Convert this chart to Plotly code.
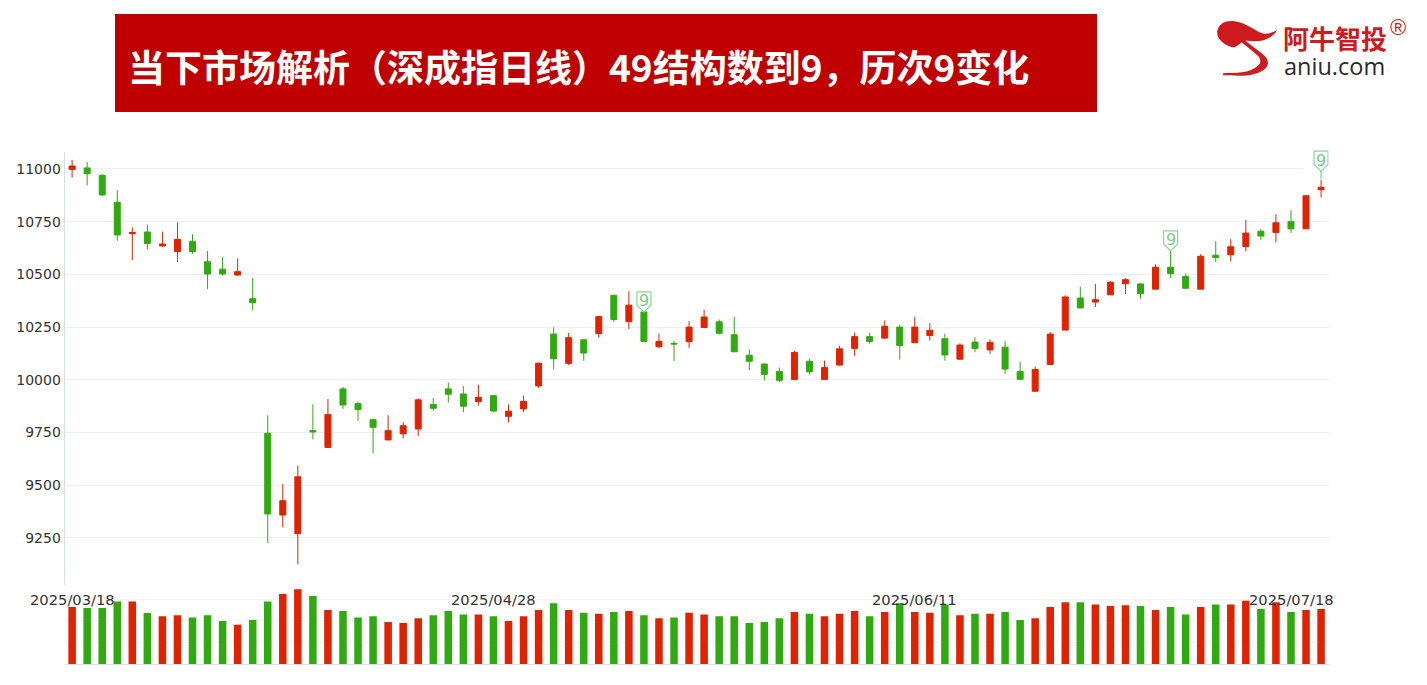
import plotly.graph_objects as go

W, H = 1427, 685

opens = [10998,11005,10970,10842,10693,10701,10635,10608,10657,10560,10525,10497,10385,9747,9359,9271,9759,9679,9957,9887,
         9811,9715,9744,9767,9883,9957,9933,9897,9925,9827,9862,9971,10217,10078,10190,10219,10401,10276,10322,10157,
         10173,10181,10248,10275,10214,10117,10075,10040,10002,10088,10002,10070,10149,10205,10198,10250,10176,10210,10195,10098,
         10179,10142,10155,10040,9946,10073,10236,10388,10369,10403,10456,10455,10430,10534,10490,10430,10591,10593,10632,10705,
         10699,10750,10716,10902]
highs = [11043,11033,10975,10900,10723,10737,10703,10747,10690,10611,10584,10576,10483,9832,9506,9594,9884,9909,9966,9897,
         9816,9832,9799,9912,9914,9987,9970,9976,9925,9883,9925,10081,10249,10222,10190,10302,10403,10420,10322,10219,
         10186,10278,10333,10286,10299,10144,10077,10058,10139,10099,10091,10162,10224,10224,10282,10261,10299,10269,10219,10173,
         10202,10192,10184,10086,10063,10227,10401,10442,10455,10468,10482,10456,10548,10612,10504,10596,10658,10667,10759,10715,
         10785,10804,10873,10948]
lows = [10959,10921,10872,10660,10568,10620,10631,10559,10598,10430,10494,10494,10329,9226,9300,9125,9718,9677,9862,9805,
        9652,9714,9722,9734,9854,9892,9846,9878,9846,9798,9846,9962,10049,10070,10090,10200,10275,10241,10182,10151,
        10089,10152,10248,10214,10133,10045,9997,9989,10002,10026,10002,10069,10114,10171,10195,10096,10176,10186,10091,10096,
        10131,10123,10029,9998,9944,10073,10236,10341,10345,10403,10407,10385,10430,10483,10430,10430,10558,10561,10610,10664,
        10653,10697,10716,10865]
closes = [11014,10978,10877,10687,10699,10647,10644,10666,10608,10502,10502,10513,10366,9364,9427,9540,9753,9835,9881,9859,
          9775,9759,9782,9905,9865,9932,9875,9917,9852,9851,9898,10079,10100,10200,10127,10300,10286,10354,10182,10182,
          10170,10250,10298,10221,10133,10088,10026,9998,10130,10038,10058,10147,10205,10182,10254,10163,10250,10235,10118,10165,
          10149,10178,10051,10003,10049,10217,10393,10341,10380,10463,10475,10409,10534,10504,10434,10586,10580,10631,10696,10682,
          10745,10716,10873,10913]
volumes = [263,258,258,288,288,235,220,225,215,225,198,181,203,288,323,345,314,249,245,215,
           220,194,189,211,225,245,229,229,220,198,220,249,280,249,237,232,240,245,225,211,
           215,237,229,220,220,189,194,211,240,232,220,232,245,220,240,280,240,237,275,225,
           232,232,240,203,211,263,285,285,275,268,271,268,249,263,228,263,275,275,292,254,
           285,240,249,254]
price_ticks = [9250,9500,9750,10000,10250,10500,10750,11000]
volume_ticks = [100,200,300]
date_labels = ["2025/03/18","2025/04/28","2025/06/11","2025/07/18"]
date_index = [0,28,56,83]
nine_index = [38,73,83]
nine_value = [10322,10612,10990]

title_text = "当下市场解析（深成指日线）49结构数到9，历次9变化"
RED, GREEN = "#df2300", "#31a910"
AX_LINE, GRID = "#d3dfef", "#ebeff4"
xs = list(range(len(opens)))
vol_colors = [RED if c >= o else GREEN for o, c in zip(opens, closes)]

def px(x): return x / W
def py(y): return 1 - y / H

fig = go.Figure()
fig.add_trace(go.Candlestick(
    x=xs, open=opens, high=highs, low=lows, close=closes, xaxis="x", yaxis="y",
    whiskerwidth=0, showlegend=False, hoverinfo="skip",
    increasing=dict(line=dict(color=RED, width=1), fillcolor=RED),
    decreasing=dict(line=dict(color=GREEN, width=1), fillcolor=GREEN),
))
fig.add_trace(go.Bar(x=xs, y=volumes, xaxis="x2", yaxis="y2", marker=dict(color=vol_colors, line=dict(width=0)),
                     showlegend=False, hoverinfo="skip"))

shapes = [
    dict(type="rect", xref="paper", yref="paper", x0=px(115), x1=px(1097), y0=py(112), y1=py(14),
         fillcolor="#c00000", line=dict(width=0)),
    # white patches: end of the top grid line and the part of the axis line above the chart
    dict(type="rect", xref="paper", yref="paper", x0=px(1304), x1=px(1340), y0=py(172), y1=py(141),
         fillcolor="white", line=dict(width=0), layer="above"),
    dict(type="rect", xref="paper", yref="paper", x0=px(60), x1=px(70), y0=py(152), y1=py(144),
         fillcolor="white", line=dict(width=0), layer="above"),
]

def lg(a, b): return f"{px(1200 + a / 3):.5f},{py(b / 3):.5f}"
logo = ("M" + lg(52, 92) + " C" + lg(58, 68) + " " + lg(80, 60) + " " + lg(105, 64)
        + " C" + lg(140, 70) + " " + lg(165, 92) + " " + lg(185, 100)
        + " C" + lg(200, 104) + " " + lg(218, 98) + " " + lg(232, 90)
        + " C" + lg(218, 112) + " " + lg(195, 124) + " " + lg(165, 124)
        + " C" + lg(155, 124) + " " + lg(145, 122) + " " + lg(136, 122)
        + " L" + lg(185, 160)
        + " C" + lg(215, 182) + " " + lg(208, 205) + " " + lg(175, 218)
        + " C" + lg(140, 232) + " " + lg(100, 226) + " " + lg(70, 226)
        + " L" + lg(68, 220)
        + " C" + lg(105, 218) + " " + lg(150, 222) + " " + lg(175, 196)
        + " C" + lg(188, 182) + " " + lg(178, 170) + " " + lg(165, 160)
        + " L" + lg(125, 127)
        + " C" + lg(115, 135) + " " + lg(105, 146) + " " + lg(92, 140)
        + " C" + lg(70, 132) + " " + lg(48, 115) + " " + lg(52, 92) + " Z")
shapes.append(dict(type="path", xref="paper", yref="paper", path=logo, fillcolor="#cd1b1f", line=dict(width=0)))

annotations = [
    dict(text=f"<b>{title_text}</b>", xref="paper", yref="paper", x=px(126), y=py(66), xanchor="left", yanchor="middle",
         showarrow=False, font=dict(family="Noto Sans CJK SC", size=37, color="white")),
    dict(text="<b>阿牛智投</b>", xref="paper", yref="paper", x=px(1281), y=py(38), xanchor="left", yanchor="middle",
         showarrow=False, font=dict(family="Noto Sans CJK SC", size=26, color="#cd1b1f")),
    dict(text="aniu.com", xref="paper", yref="paper", x=px(1282), y=py(66), xanchor="left", yanchor="middle",
         showarrow=False, font=dict(family="Open Sans", size=23.5, color="#2b2b2b")),
    dict(text="®", xref="paper", yref="paper", x=px(1398), y=py(28), xanchor="center", yanchor="middle",
         showarrow=False, font=dict(family="Liberation Sans", size=22, color="#cd1b1f")),
]

for lab, i in zip(date_labels, date_index):
    last = i == date_index[-1]
    annotations.append(dict(
        text=lab, xref="x2", yref="paper", x=i, y=py(599), xanchor="right" if last else "center", yanchor="middle",
        xshift=15 if last else 0, showarrow=False, font=dict(family="DejaVu Sans", size=14.7, color="#333333"),
    ))

for i, v in zip(nine_index, nine_value):
    shapes.append(dict(
        type="path", xref="x", yref="y", xsizemode="pixel", ysizemode="pixel", xanchor=i, yanchor=v,
        path="M-7,20 L7,20 L7,6.5 L0,0 L-7,6.5 Z", fillcolor="white", line=dict(color="#8ed49a", width=1.2), layer="above",
    ))
    annotations.append(dict(text="9", xref="x", yref="y", x=i, y=v, yshift=11, xanchor="center", yanchor="middle",
                            showarrow=False, font=dict(family="DejaVu Sans", size=16, color="#7bc98a")))
shapes.append(dict(type="line", xref="x", yref="y", x0=nine_index[-1], x1=nine_index[-1], y0=nine_value[-1], y1=highs[nine_index[-1]] + 6,
                   line=dict(color="#8ed49a", width=1.5)))

fig.update_layout(
    width=W, height=H, autosize=False, margin=dict(l=0, r=0, t=0, b=0),
    paper_bgcolor="white", plot_bgcolor="white", boxgap=0.43, bargap=0.5,
    shapes=shapes, annotations=annotations,
    font=dict(family="DejaVu Sans", color="#333333"),
    xaxis=dict(domain=[px(64.6), px(1328.6)], range=[-0.5, 83.5], anchor="y", showgrid=False, showticklabels=False,
               ticks="", zeroline=False, rangeslider=dict(visible=False), showline=False),
    yaxis=dict(domain=[py(585), py(146)], range=[9027, 11109], anchor="x", tickvals=price_ticks,
               ticktext=[str(v) for v in price_ticks], showgrid=True, gridcolor=GRID, gridwidth=1, zeroline=False,
               showline=True, linecolor=AX_LINE, linewidth=1, ticks="", tickfont=dict(family="DejaVu Sans", size=14, color="#333333")),
    xaxis2=dict(domain=[px(64.6), px(1328.6)], range=[-0.5, 83.5], anchor="y2", showgrid=False, showticklabels=False,
                ticks="", zeroline=False, showline=True, linecolor=AX_LINE, linewidth=1),
    yaxis2=dict(domain=[py(664), py(586)], range=[0, 360], anchor="x2", tickvals=volume_ticks, showticklabels=False,
                showgrid=True, gridcolor="#f3f6f9", gridwidth=1, zeroline=False, showline=False, ticks=""),
)

fig.write_html("out.html", post_script="document.body.style.margin='0';document.body.style.overflow='hidden';",
               config=dict(displayModeBar=False))
